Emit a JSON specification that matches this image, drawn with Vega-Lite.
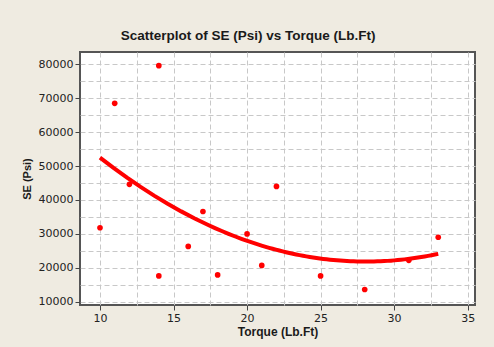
{
  "$schema": "https://vega.github.io/schema/vega-lite/v6.json",
  "width": 395,
  "height": 253,
  "autosize": {"type": "none"},
  "padding": {"left": 80, "top": 52, "right": 19, "bottom": 42},
  "background": "#efebe1",
  "config": {
    "view": {"fill": "white", "stroke": "#555555", "strokeWidth": 2},
    "font": "Liberation Sans"
  },
  "title": {
    "text": "Scatterplot of SE (Psi) vs Torque (Lb.Ft)",
    "font": "Liberation Sans",
    "fontSize": 13.5,
    "fontWeight": "bold",
    "color": "#1a1a1a",
    "anchor": "middle",
    "frame": "bounds",
    "offset": 10
  },
  "data": {
    "values": [
      {"torque": 10, "se": 31800},
      {"torque": 11, "se": 68500},
      {"torque": 12, "se": 44600},
      {"torque": 14, "se": 79600},
      {"torque": 14, "se": 17600},
      {"torque": 16, "se": 26300},
      {"torque": 17, "se": 36600},
      {"torque": 18, "se": 17900},
      {"torque": 20, "se": 30000},
      {"torque": 21, "se": 20700},
      {"torque": 22, "se": 44000},
      {"torque": 25, "se": 17600},
      {"torque": 28, "se": 13600},
      {"torque": 31, "se": 22200},
      {"torque": 33, "se": 29000}
    ]
  },
  "encoding": {
    "x": {
      "field": "torque",
      "type": "quantitative",
      "title": "Torque (Lb.Ft)",
      "scale": {"domain": [8.64, 35.5], "nice": false, "zero": false},
      "axis": {
        "values": [10, 12.5, 15, 17.5, 20, 22.5, 25, 27.5, 30, 32.5, 35],
        "labelExpr": "datum.value % 5 == 0 ? datum.label : ''",
        "grid": true,
        "gridColor": "#c8c8c8",
        "gridDash": [5, 3],
        "gridWidth": 1,
        "domain": false,
        "tickColor": "#444444",
        "tickSize": 5,
        "tickOpacity": {"condition": {"test": "datum.value % 5 != 0", "value": 0}, "value": 1},
        "labelFont": "DejaVu Sans",
        "labelFontSize": 11,
        "labelColor": "#222222",
        "labelPadding": 2,
        "titleFont": "Liberation Sans",
        "titleFontSize": 12,
        "titleFontWeight": "bold",
        "titleColor": "#1a1a1a",
        "titlePadding": 3
      }
    },
    "y": {
      "field": "se",
      "type": "quantitative",
      "title": "SE (Psi)",
      "scale": {"domain": [9030, 83630], "nice": false, "zero": false},
      "axis": {
        "values": [10000, 15000, 20000, 25000, 30000, 35000, 40000, 45000, 50000, 55000, 60000, 65000, 70000, 75000, 80000],
        "labelExpr": "datum.value % 10000 == 0 ? datum.value : ''",
        "grid": true,
        "gridColor": "#c8c8c8",
        "gridDash": [5, 3],
        "gridWidth": 1,
        "domain": false,
        "tickColor": "#444444",
        "tickSize": 5,
        "tickOpacity": {"condition": {"test": "datum.value % 10000 != 0", "value": 0}, "value": 1},
        "labelFont": "DejaVu Sans",
        "labelFontSize": 11,
        "labelColor": "#222222",
        "labelPadding": 2,
        "titleFont": "Liberation Sans",
        "titleFontSize": 11,
        "titleFontWeight": "bold",
        "titleColor": "#1a1a1a",
        "titlePadding": 6
      }
    }
  },
  "layer": [
    {
      "mark": {"type": "circle", "color": "#ff0000", "opacity": 1, "size": 32}
    },
    {
      "transform": [
        {"regression": "se", "on": "torque", "method": "poly", "order": 2, "extent": [10, 33]}
      ],
      "mark": {"type": "line", "color": "#ff0000", "strokeWidth": 4}
    }
  ]
}
